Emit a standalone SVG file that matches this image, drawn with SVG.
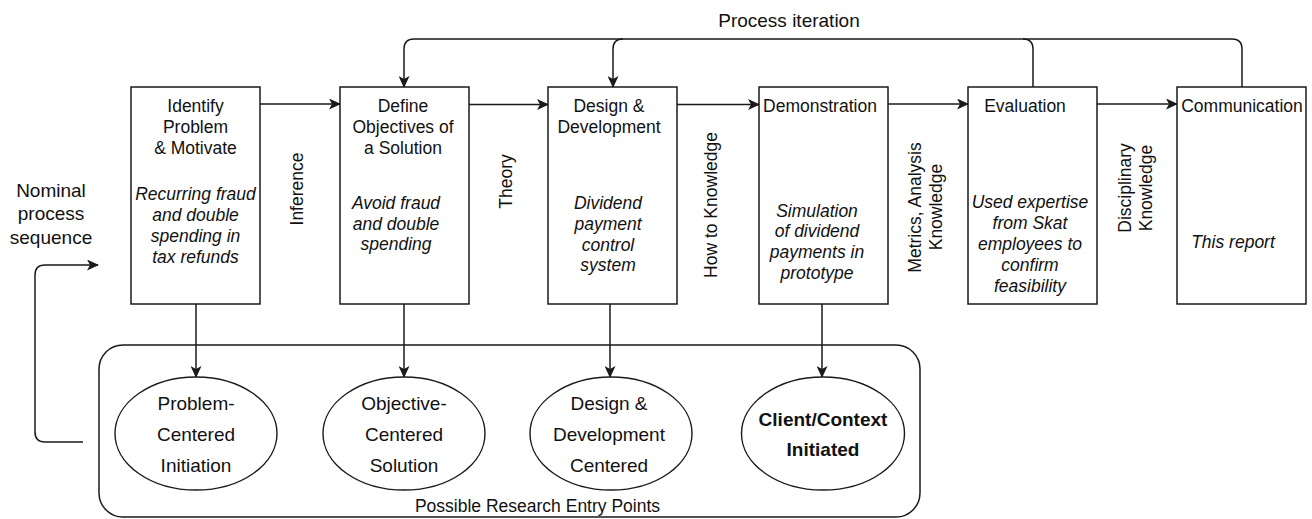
<svg xmlns="http://www.w3.org/2000/svg" width="1312" height="519" viewBox="0 0 1312 519">
<style>
text{font-family:"Liberation Sans",Arial,Helvetica,sans-serif;fill:#111}
.t{font-size:17.5px;text-anchor:middle}
.i{font-size:17.5px;font-style:italic;text-anchor:middle}
.e{font-size:19px;text-anchor:middle}
.b{font-size:19px;font-weight:bold;text-anchor:middle}
.box{fill:#fff;stroke:#1a1a1a;stroke-width:1.5}
.ell{fill:#fff;stroke:#1a1a1a;stroke-width:1.4}
.ln{fill:none;stroke:#1a1a1a;stroke-width:1.5}
.arr{fill:none;stroke:#1a1a1a;stroke-width:1.5;marker-end:url(#ah)}
</style>
<defs>
<marker id="ah" viewBox="0 0 12 11" refX="11" refY="5.5" markerWidth="12" markerHeight="11" markerUnits="userSpaceOnUse" orient="auto">
<path d="M0,0 L12,5.5 L0,11 L3,5.5 z" fill="#1a1a1a"/>
</marker>
</defs>
<rect width="1312" height="519" fill="#fff"/>

<g id="entry-points">
<rect x="99" y="345" width="821" height="172" rx="24" ry="24" fill="none" stroke="#1a1a1a" stroke-width="1.5"/>
<text class="t" x="537.5" y="511.5">Possible Research Entry Points</text>
</g>

<g id="connectors">
<path class="arr" d="M260,104 L340,104"/>
<path class="arr" d="M469,104.5 L548,104.5"/>
<path class="arr" d="M677,104.5 L759,104.5"/>
<path class="arr" d="M888,104 L968,104"/>
<path class="arr" d="M1097,104 L1177,104"/>
<path class="arr" d="M1033,87 L1033,49 Q1033,39 1023,39 L414,39 Q404,39 404,49 L404,87"/>
<path class="ln" d="M1242,87 L1242,49 Q1242,39 1232,39 L1023,39"/>
<path class="arr" d="M623,39 Q613,39 613,49 L613,87"/>
<path class="arr" d="M196,304 L196,377"/>
<path class="arr" d="M404,304 L404,377"/>
<path class="arr" d="M610,304 L610,377"/>
<path class="arr" d="M822,304 L822,377"/>
<path class="arr" d="M83,442 L45,442 Q35,442 35,432 L35,275 Q35,265 45,265 L98,265"/>
</g>

<g id="process-iteration"><text x="789" y="26.5" style="font-size:19px;text-anchor:middle">Process iteration</text></g>
<g id="nominal"><text class="e" x="51" y="196.5">Nominal</text><text class="e" x="51" y="220">process</text><text class="e" x="51" y="244">sequence</text></g>

<g id="identify">
<rect class="box" x="131" y="87" width="129" height="217"/>
<text class="t" x="195.5" y="112">Identify</text>
<text class="t" x="195.5" y="133">Problem</text>
<text class="t" x="195.5" y="154">&amp; Motivate</text>
<text class="i" x="195.5" y="200">Recurring fraud</text>
<text class="i" x="195.5" y="221">and double</text>
<text class="i" x="195.5" y="242">spending in</text>
<text class="i" x="195.5" y="263">tax refunds</text>
</g>

<g id="define">
<rect class="box" x="340" y="87" width="129" height="217"/>
<text class="t" x="403" y="112">Define</text>
<text class="t" x="403" y="133">Objectives of</text>
<text class="t" x="403" y="154">a Solution</text>
<text class="i" x="396" y="209">Avoid fraud</text>
<text class="i" x="396" y="230">and double</text>
<text class="i" x="396" y="250">spending</text>
</g>

<g id="design">
<rect class="box" x="548" y="87" width="129" height="217"/>
<text class="t" x="609" y="112">Design &amp;</text>
<text class="t" x="609" y="133">Development</text>
<text class="i" x="608" y="209">Dividend</text>
<text class="i" x="608" y="230">payment</text>
<text class="i" x="608" y="250.5">control</text>
<text class="i" x="608" y="271">system</text>
</g>

<g id="demonstration">
<rect class="box" x="759" y="87" width="129" height="217"/>
<text class="t" x="820" y="112">Demonstration</text>
<text class="i" x="817" y="216.5">Simulation</text>
<text class="i" x="817" y="237">of dividend</text>
<text class="i" x="817" y="258">payments in</text>
<text class="i" x="817" y="279">prototype</text>
</g>

<g id="evaluation">
<rect class="box" x="968" y="87" width="129" height="217"/>
<text class="t" x="1025" y="112">Evaluation</text>
<text class="i" x="1030" y="208">Used expertise</text>
<text class="i" x="1030" y="229">from Skat</text>
<text class="i" x="1030" y="250">employees to</text>
<text class="i" x="1030" y="271">confirm</text>
<text class="i" x="1030" y="292">feasibility</text>
</g>

<g id="communication">
<rect class="box" x="1177" y="87" width="129" height="217"/>
<text class="t" x="1242" y="112">Communication</text>
<text class="i" x="1233" y="248">This report</text>
</g>

<g id="labels">
<text class="t" transform="translate(303,189) rotate(-90)">Inference</text>
<text class="t" transform="translate(512,181.5) rotate(-90)">Theory</text>
<text class="t" transform="translate(717,205) rotate(-90)">How to Knowledge</text>
<text class="t" transform="translate(920.5,207.5) rotate(-90)">Metrics, Analysis</text>
<text class="t" transform="translate(942,207) rotate(-90)">Knowledge</text>
<text class="t" transform="translate(1130.5,188) rotate(-90)">Disciplinary</text>
<text class="t" transform="translate(1152,188) rotate(-90)">Knowledge</text>
</g>

<g id="problem-centered">
<ellipse class="ell" cx="196" cy="433.5" rx="81" ry="56.5"/>
<text class="e" x="196" y="410">Problem-</text>
<text class="e" x="196" y="440.5">Centered</text>
<text class="e" x="196" y="471.5">Initiation</text>
</g>
<g id="objective-centered">
<ellipse class="ell" cx="404" cy="433.5" rx="81" ry="56.5"/>
<text class="e" x="404" y="410">Objective-</text>
<text class="e" x="404" y="440.5">Centered</text>
<text class="e" x="404" y="471.5">Solution</text>
</g>
<g id="design-centered">
<ellipse class="ell" cx="611" cy="433.5" rx="81" ry="56.5"/>
<text class="e" x="609" y="410">Design &amp;</text>
<text class="e" x="609" y="440.5">Development</text>
<text class="e" x="609" y="471.5">Centered</text>
</g>
<g id="client-initiated">
<ellipse class="ell" cx="823" cy="433.5" rx="81.5" ry="56.5"/>
<text class="b" x="823" y="426">Client/Context</text>
<text class="b" x="823" y="456">Initiated</text>
</g>
</svg>
